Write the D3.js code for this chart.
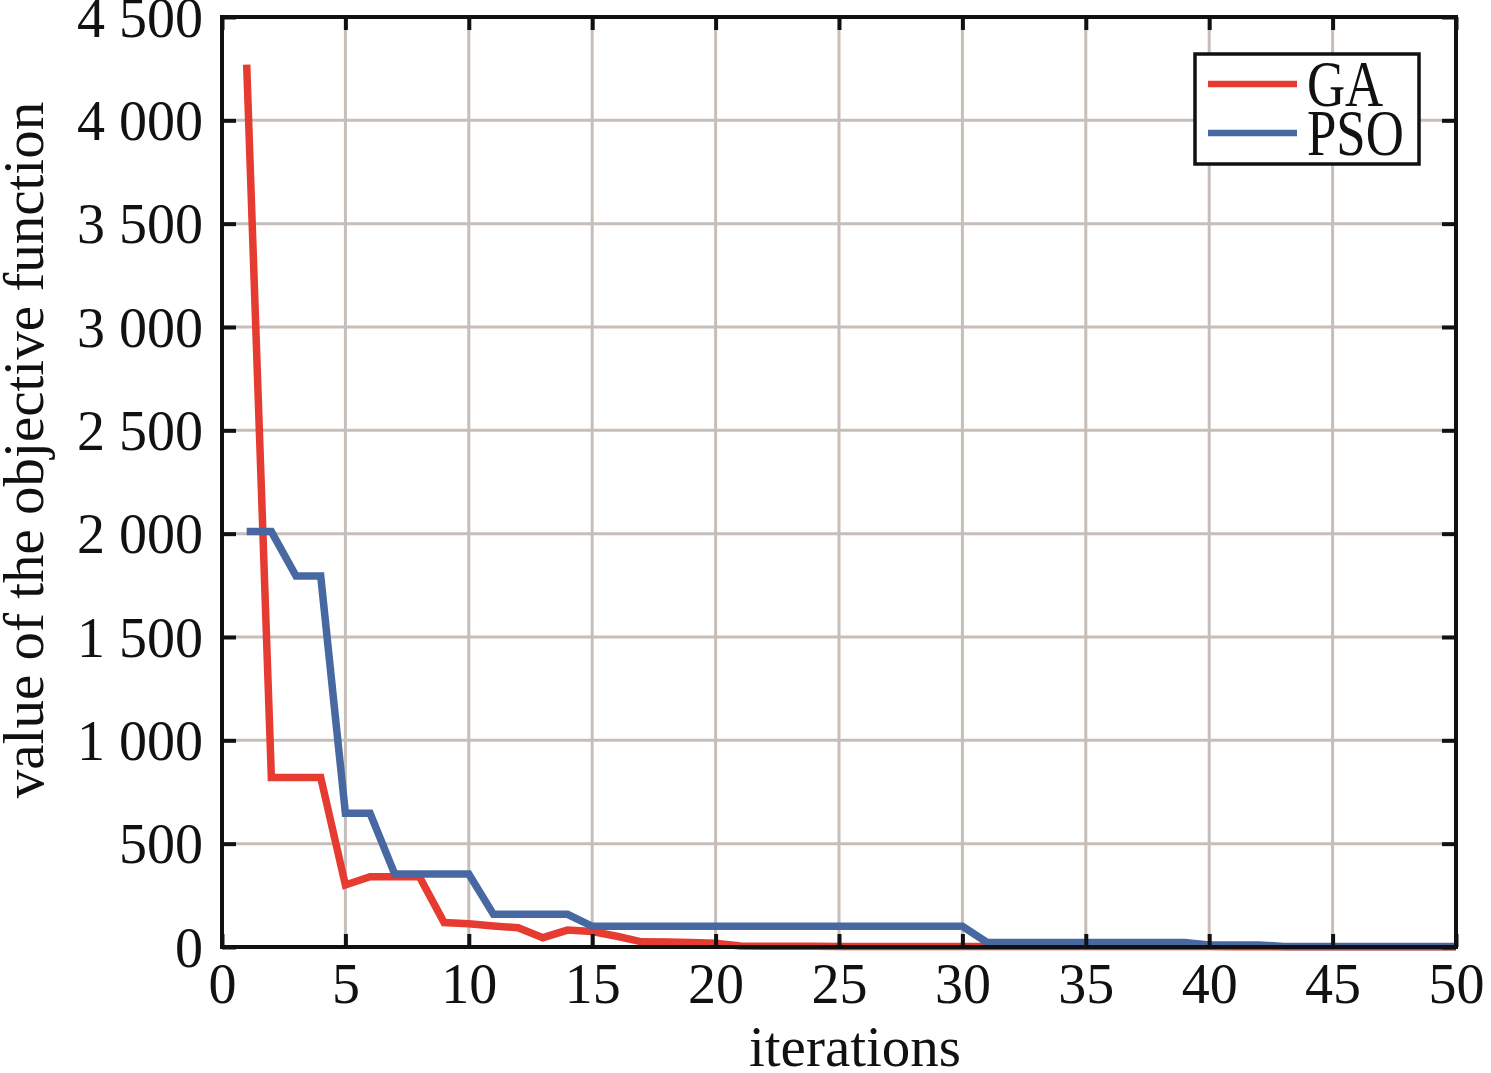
<!DOCTYPE html>
<html><head><meta charset="utf-8">
<script src="https://cdn.jsdelivr.net/npm/d3@7"></script>
<style>body{margin:0;background:#fff}svg{display:block}text{font-family:"Liberation Serif","Times New Roman",serif;fill:#111}</style>
</head><body><svg id="c" width="1491" height="1073"></svg>
<script>
const iterations = d3.range(1, 51);
const gaValues = [4270, 820, 820, 820, 300, 340, 340, 340, 118, 112,
  102, 93, 45, 82, 75, 52, 25, 24, 22, 18,
  5, 4, 4, 4, 3, 3, 3, 3, 3, 2,
  2, 2, 2, 2, 2, 2, 2, 2, 2, 2,
  1, 1, 1, 1, 1, 1, 1, 1, 1, 1];
const psoValues = [2010, 2010, 1795, 1795, 647, 647, 353, 353, 353, 353,
  158, 158, 158, 158, 100, 100, 100, 100, 100, 100,
  100, 100, 100, 100, 100, 100, 100, 100, 100, 100,
  22, 22, 22, 22, 22, 22, 22, 22, 22, 10,
  10, 10, 3, 3, 3, 3, 3, 3, 3, 3];
const xTicks = [0, 5, 10, 15, 20, 25, 30, 35, 40, 45, 50];
const yTicks = [0, 500, 1000, 1500, 2000, 2500, 3000, 3500, 4000, 4500];
const yTickLabels = ["0", "500", "1 000", "1 500", "2 000", "2 500", "3 000", "3 500", "4 000", "4 500"];
const seriesNames = ["GA", "PSO"];
const seriesColors = ["#e53b30", "#4868a2"];

const L = 222, T = 17, R = 1456, B = 947;
const svg = d3.select("#c");
const x = d3.scaleLinear().domain([0, 50]).range([L, R]);
const y = d3.scaleLinear().domain([0, 4500]).range([B, T]);

// grid
const grid = svg.append("g").attr("stroke", "#c7beb8").attr("stroke-width", 3);
grid.selectAll(".gx").data(xTicks.slice(1, -1)).join("line")
  .attr("x1", d => x(d)).attr("x2", d => x(d)).attr("y1", T).attr("y2", B);
grid.selectAll(".gy").data(yTicks.slice(1, -1)).join("line")
  .attr("y1", d => y(d)).attr("y2", d => y(d)).attr("x1", L).attr("x2", R);

// lines
const line = d3.line().x((d, i) => x(iterations[i])).y(d => y(d));
[gaValues, psoValues].forEach((vals, k) => {
  svg.append("path").datum(vals).attr("d", line).attr("fill", "none")
    .attr("stroke", seriesColors[k]).attr("stroke-width", 7.5).attr("stroke-linejoin", "miter");
});

// axes
const fs = 56;
const ax = svg.append("g").attr("transform", `translate(0,${B})`)
  .call(d3.axisBottom(x).tickValues(xTicks).tickSizeInner(-13).tickSizeOuter(0).tickPadding(16));
ax.selectAll("text").attr("font-size", fs).attr("font-family", "Liberation Serif").attr("fill", "#111")
  .attr("dy", null).attr("y", 56);
const ay = svg.append("g").attr("transform", `translate(${L},0)`)
  .call(d3.axisLeft(y).tickValues(yTicks).tickFormat((d, i) => yTickLabels[i]).tickSizeInner(-14).tickSizeOuter(0).tickPadding(19));
ay.selectAll("text").attr("font-size", fs).attr("font-family", "Liberation Serif").attr("fill", "#111").attr("dy", "0.34em");
svg.append("g").attr("transform", `translate(0,${T})`)
  .call(d3.axisTop(x).tickValues(xTicks).tickSizeInner(-13).tickSizeOuter(0).tickFormat(""));
svg.append("g").attr("transform", `translate(${R},0)`)
  .call(d3.axisRight(y).tickValues(yTicks).tickSizeInner(-14).tickSizeOuter(0).tickFormat(""));
svg.selectAll(".domain").remove();
svg.selectAll(".tick line").attr("stroke", "#111").attr("stroke-width", 4);

// frame
svg.append("rect").attr("x", L).attr("y", T).attr("width", R - L).attr("height", B - T)
  .attr("fill", "none").attr("stroke", "#111").attr("stroke-width", 4);

// axis titles
svg.append("text").attr("x", 855).attr("y", 1066).attr("text-anchor", "middle")
  .attr("font-size", 57).text("iterations");
svg.append("text").attr("transform", "translate(43,450) rotate(-90)").attr("text-anchor", "middle")
  .attr("font-size", 57).text("value of the objective function");

// legend
const lg = svg.append("g");
lg.append("rect").attr("x", 1195).attr("y", 54).attr("width", 224).attr("height", 110)
  .attr("fill", "#fff").attr("stroke", "#111").attr("stroke-width", 3.5);
seriesNames.forEach((n, i) => {
  const yy = 84 + i * 49;
  lg.append("line").attr("x1", 1208).attr("x2", 1297).attr("y1", yy).attr("y2", yy)
    .attr("stroke", seriesColors[i]).attr("stroke-width", 6.5);
  lg.append("text").attr("transform", `translate(1307,${yy + 22}) scale(0.8,1)`)
    .attr("font-size", 66).text(n);
});
</script></body></html>
